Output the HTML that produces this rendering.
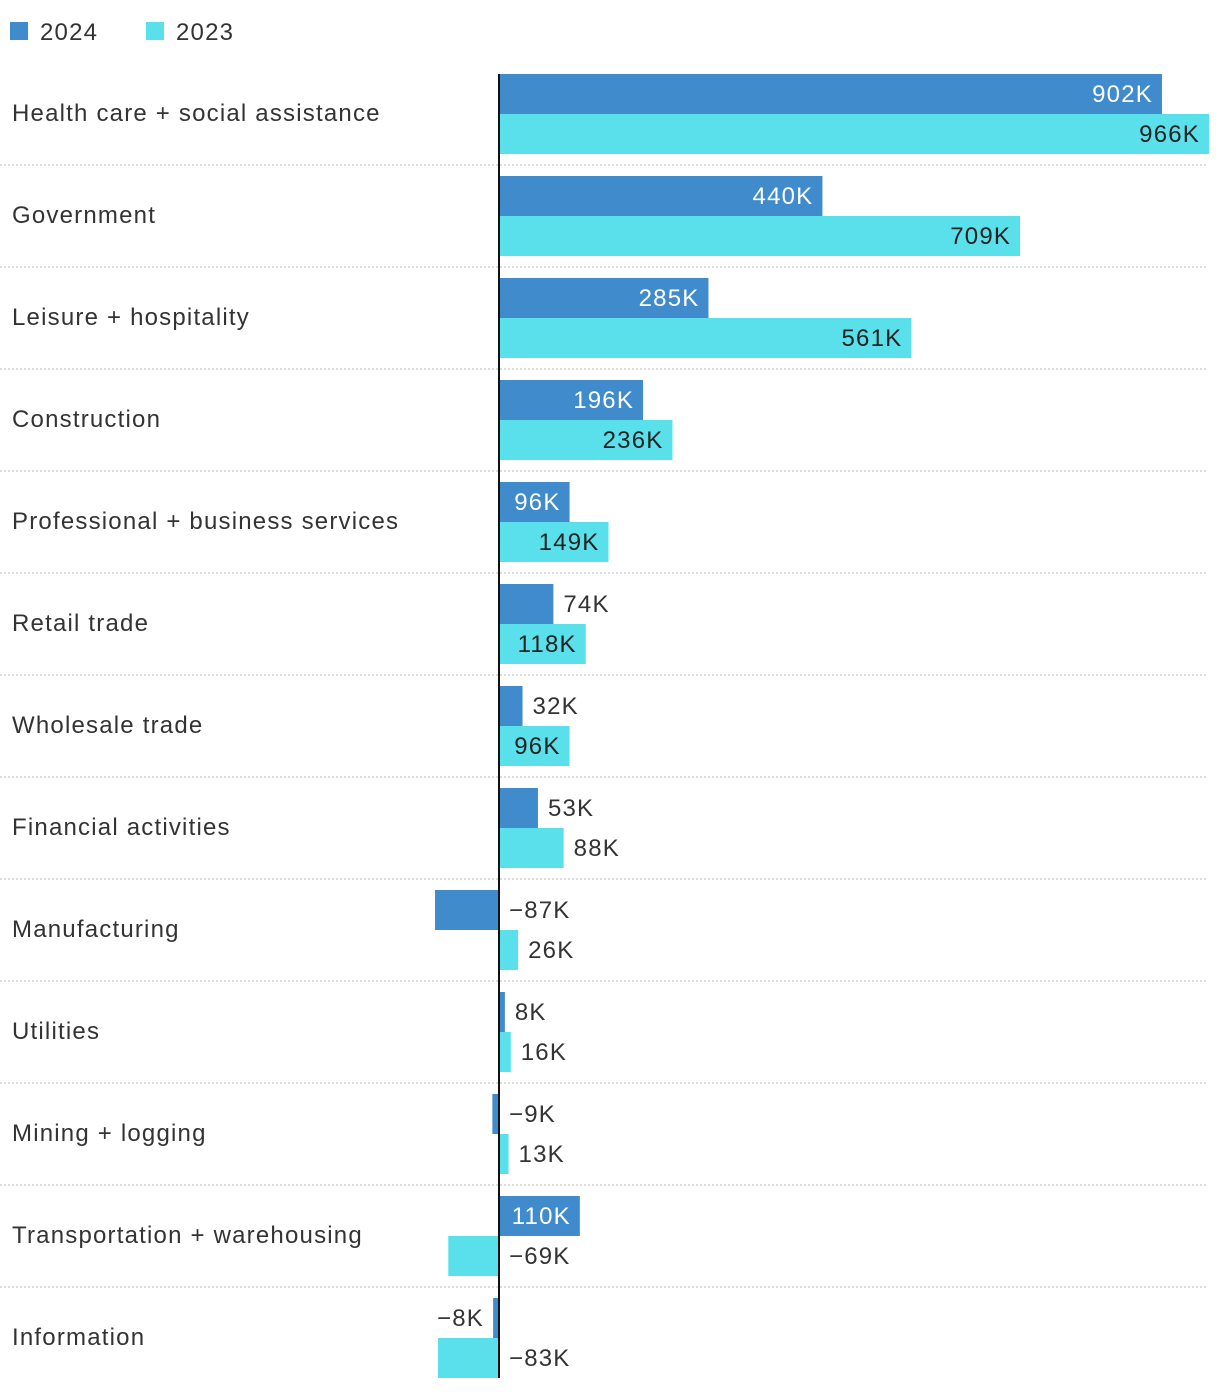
<!DOCTYPE html>
<html><head><meta charset="utf-8"><style>
body{margin:0;background:#fff;width:1220px;height:1390px;overflow:hidden;font-family:"Liberation Sans",sans-serif;}
svg text{font-family:"Liberation Sans",sans-serif;font-size:24px;letter-spacing:1.2px;}
</style></head><body>
<svg id="chart" width="1220" height="1390" xmlns="http://www.w3.org/2000/svg"></svg>
<script>
const categories=["Health care + social assistance","Government","Leisure + hospitality","Construction","Professional + business services","Retail trade","Wholesale trade","Financial activities","Manufacturing","Utilities","Mining + logging","Transportation + warehousing","Information"];
const values2024=[902,440,285,196,96,74,32,53,-87,8,-9,110,-8];
const values2023=[966,709,561,236,149,118,96,88,26,16,13,-69,-83];
const seriesNames=["2024","2023"];
const C1="#3f8bcb",C2="#59e0ea";
const svg=document.getElementById('chart');
const NS="http://www.w3.org/2000/svg";
const x0=499,k=0.735,top0=74,rowH=102,barH=40;
const xs=v=>x0+v*k;
function mk(tag,attrs){const e=document.createElementNS(NS,tag);for(const a in attrs)e.setAttribute(a,attrs[a]);svg.appendChild(e);return e;}
[[C1,10,seriesNames[0]],[C2,146,seriesNames[1]]].forEach((d,i)=>{
  const r=mk('rect',{x:d[1],y:22,width:18,height:18,fill:d[0]});
  
  
  const t=mk('text',{x:d[1]+30,y:40,fill:'#333','font-size':27,'letter-spacing':2});t.textContent=d[2];
  
  
});
const fmt=v=>(v<0?'\u2212':'')+Math.abs(v)+'K';
categories.forEach((c,i)=>{
  const y=top0+i*rowH;
  const lab=mk('text',{x:12,y:y+47,fill:'#333','letter-spacing':1.4});lab.textContent=c;
  
  
  if(i<categories.length-1){
    const ln=mk('line',{x1:0,x2:1208,y1:y+91,y2:y+91,stroke:'#bbb','stroke-dasharray':'2,2'});
    
    
  }
  [[values2024[i],C1,0,'#fff'],[values2023[i],C2,1,'#222']].forEach(([v,col,j,inCol])=>{
    const by=y+j*barH;
    const xa=Math.min(xs(0),xs(v)),w=Math.abs(xs(v)-xs(0));
    const r=mk('rect',{x:xa,y:by,width:w,height:barH,fill:col});
    
    
    let t;
    if(v>0&&w>67){t=mk('text',{x:xs(v)-9,y:by+28,fill:inCol,'text-anchor':'end'});}
    else if(v<0&&i===categories.length-1&&j===0){t=mk('text',{x:x0-15,y:by+28,fill:'#333','text-anchor':'end'});}
    else{t=mk('text',{x:Math.max(xs(v),x0)+10,y:by+28,fill:'#333'});}
    t.textContent=fmt(v);
    
    
  });
});
const ax=mk('line',{x1:x0,x2:x0,y1:top0,y2:top0+rowH*(categories.length-1)+2*barH,stroke:'#111','stroke-width':2});


</script>
</body></html>
